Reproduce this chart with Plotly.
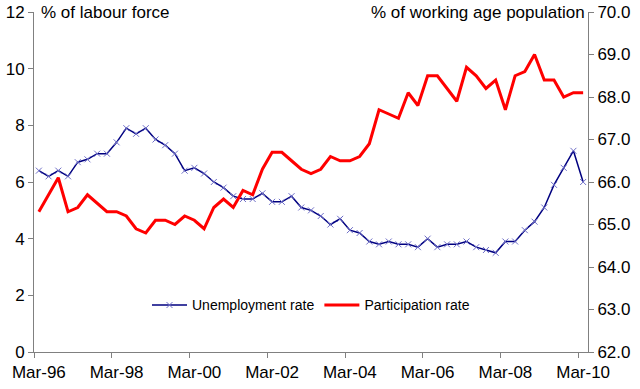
import plotly.graph_objects as go

months = ["Mar", "Jun", "Sep", "Dec"]
quarters = [f"{months[q % 4]}-{(96 + q // 4) % 100:02d}" for q in range(57)]

unemployment = [6.4, 6.2, 6.4, 6.2, 6.7, 6.8, 7.0, 7.0, 7.4, 7.9,
                7.7, 7.9, 7.5, 7.3, 7.0, 6.4, 6.5, 6.3, 6.0, 5.8,
                5.5, 5.4, 5.4, 5.6, 5.3, 5.3, 5.5, 5.1, 5.0, 4.8,
                4.5, 4.7, 4.3, 4.2, 3.9, 3.8, 3.9, 3.8, 3.8, 3.7,
                4.0, 3.7, 3.8, 3.8, 3.9, 3.7, 3.6, 3.5, 3.9, 3.9,
                4.3, 4.6, 5.1, 5.9, 6.5, 7.1, 6.0]

participation = [65.3, 65.7, 66.1, 65.3, 65.4, 65.7, 65.5, 65.3, 65.3, 65.2,
                 64.9, 64.8, 65.1, 65.1, 65.0, 65.2, 65.1, 64.9, 65.4, 65.6,
                 65.4, 65.8, 65.7, 66.3, 66.7, 66.7, 66.5, 66.3, 66.2, 66.3,
                 66.6, 66.5, 66.5, 66.6, 66.9, 67.7, 67.6, 67.5, 68.1, 67.8,
                 68.5, 68.5, 68.2, 67.9, 68.7, 68.5, 68.2, 68.4, 67.7, 68.5,
                 68.6, 69.0, 68.4, 68.4, 68.0, 68.1, 68.1]

left_ticks = [0, 2, 4, 6, 8, 10, 12]
right_ticks = [62, 63, 64, 65, 66, 67, 68, 69, 70]
label_every = 8

idx = list(range(len(quarters)))
FONT = "Liberation Sans, Arial, sans-serif"
AX = "#808080"

fig = go.Figure()
fig.add_trace(go.Scatter(
    x=idx, y=unemployment, name="Unemployment rate", mode="lines+markers",
    line=dict(color="#000080", width=1.5),
    marker=dict(symbol="x-thin", size=6, line=dict(color="#7070C8", width=1), color="#7070C8"),
    xaxis="x", yaxis="y"))
fig.add_trace(go.Scatter(
    x=idx, y=participation, name="Participation rate", mode="lines",
    line=dict(color="#FF0000", width=3),
    xaxis="x", yaxis="y2"))

n = len(quarters)
fig.update_layout(
    width=640, height=389,
    margin=dict(l=34, r=52, t=12, b=37),
    paper_bgcolor="white", plot_bgcolor="white",
    font=dict(family=FONT, size=17, color="black"),
    showlegend=True,
    legend=dict(orientation="h", x=0.5, xanchor="center", y=0.137, yanchor="middle",
                bgcolor="rgba(0,0,0,0)", font=dict(size=14), itemwidth=35),
    xaxis=dict(range=[-0.5, n - 0.5], tickmode="array",
               tickvals=[i - 0.5 for i in idx[::label_every]],
               showticklabels=False, ticks="outside", ticklen=5, tickcolor=AX,
               showline=True, linecolor=AX, linewidth=1, showgrid=False, zeroline=False,
               automargin=False),
    xaxis2=dict(range=[-0.5, n - 0.5], overlaying="x", anchor="y", side="bottom",
                tickmode="array", tickvals=idx[::label_every],
                ticktext=[quarters[i] for i in idx[::label_every]],
                ticks="outside", ticklen=5, tickcolor="rgba(0,0,0,0)",
                showline=False, showgrid=False, zeroline=False,
                tickfont=dict(size=17), automargin=False),
    yaxis=dict(range=[0, 12], tickmode="array", tickvals=left_ticks,
               ticks="outside", ticklen=5, tickcolor=AX,
               showline=True, linecolor=AX, linewidth=1, showgrid=False, zeroline=False,
               automargin=False),
    yaxis2=dict(range=[62, 70], tickmode="array", tickvals=right_ticks, tickformat=".1f",
                overlaying="y", side="right", anchor="x",
                ticks="outside", ticklen=5, tickcolor=AX,
                showline=True, linecolor=AX, linewidth=1, showgrid=False, zeroline=False,
                automargin=False),
    annotations=[
        dict(text="% of labour force", xref="paper", yref="paper", x=0.0, y=1.0,
             xanchor="left", yanchor="middle", xshift=5, showarrow=False,
             font=dict(size=17)),
        dict(text="% of working age population", xref="paper", yref="paper", x=1.0, y=1.0,
             xanchor="right", yanchor="middle", xshift=-1, showarrow=False,
             font=dict(size=17)),
    ],
)
# helper trace so the label axis (xaxis2) is drawn
fig.add_trace(go.Scatter(x=[0], y=[None], xaxis="x2", yaxis="y", showlegend=False,
                         hoverinfo="skip"))

fig.write_html("out.html", config={"displayModeBar": False},
               post_script="document.body.style.margin='0';document.body.style.padding='0';")
